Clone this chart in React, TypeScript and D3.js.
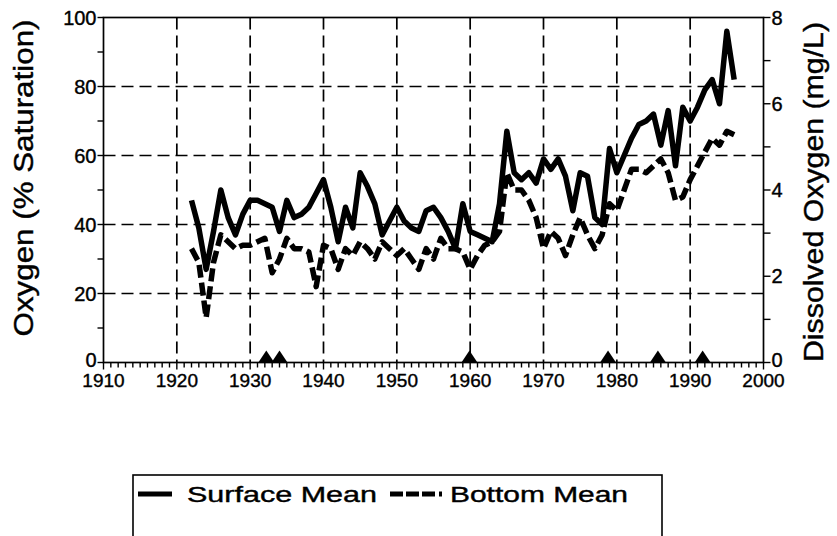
import React from "react";
import * as d3 from "d3";

// annual means, % saturation
const years = d3.range(1922, 1997);
const surfaceMean = [
  47, 39, 27, 38, 50, 42, 37, 43, 47, 47,
  46, 45, 38, 47, 42, 43, 45, 49, 53, 45,
  35, 45, 39, 55, 51, 46, 37, 41, 45, 41,
  39, 38, 44, 45, 42, 38, 33, 46, 38, 37,
  36, 35, 46, 67, 55, 53, 55, 52, 59, 56,
  59, 54, 44, 55, 54, 42, 40, 62, 55, 60,
  65, 69, 70, 72, 63, 73, 57, 74, 70, 74,
  79, 82, 75, 96, 82,
];
const bottomMean = [
  33, 29, 13, 29, 37, 35, 33, 34, 34, 35,
  36, 26, 30, 36, 33, 33, 32, 22, 34, 33,
  27, 33, 31, 35, 33, 30, 35, 33, 31, 33,
  30, 27, 33, 30, 36, 33, 33, 32, 27, 31,
  34, 35, 38, 55, 50, 50, 47, 42, 33, 38,
  36, 31, 37, 42, 37, 33, 37, 46, 44, 50,
  56, 56, 55, 57, 59, 55, 47, 48, 53, 57,
  61, 65, 63, 67, 66,
];
const markerYears = [1932.2, 1934, 1959.9, 1978.8, 1985.6, 1991.7];

const xTicks = d3.range(1910, 2001, 10);
const xMinor = d3.range(1910, 2001, 1);
const yTicks = [0, 20, 40, 60, 80, 100];
const yMinor = d3.range(0, 101, 10);
const yRightTicks = [0, 2, 4, 6, 8];
const yRightMinor = d3.range(0, 9, 1);
const gridYears = d3.range(1920, 2000, 10);
const gridValues = [20, 40, 60, 80];

const FONT = "'Liberation Sans', Arial, Helvetica, sans-serif";

const App = () => {
  const left = 103.5, right = 763.5, top = 17.5, bottom = 362.5;
  const x = d3.scaleLinear().domain([1910, 2000]).range([left, right]);
  const y = d3.scaleLinear().domain([0, 100]).range([bottom, top]);
  const yR = d3.scaleLinear().domain([0, 8]).range([bottom, top]);

  const line = d3
    .line<number>()
    .x((d, i) => x(years[i]))
    .y((d) => y(d));

  // the zero labels sit a little high so they clear the year labels
  const yLabelY = (py: number, v: number) => (v === 0 ? py + 4 : py + 7);

  return (
    <svg
      width={837}
      height={536}
      style={{ position: "absolute", left: 0, top: 0, background: "#fff" }}
      fontFamily={FONT}
    >
      <rect width={837} height={536} fill="#fff" />

      {/* grid */}
      <g stroke="#000" strokeWidth={1.7} strokeDasharray="12,6">
        {gridYears.map((yr) => (
          <line key={"gx" + yr} x1={x(yr)} x2={x(yr)} y1={top} y2={bottom} />
        ))}
        {gridValues.map((v) => (
          <line key={"gy" + v} x1={left} x2={right} y1={y(v)} y2={y(v)} />
        ))}
      </g>

      {/* frame */}
      <rect x={left} y={top} width={right - left} height={bottom - top} fill="none" stroke="#000" strokeWidth={1.7} />

      {/* data */}
      <path d={line(bottomMean) || ""} fill="none" stroke="#000" strokeWidth={5.5}
        strokeDasharray="13,5" strokeLinejoin="round" />
      <path d={line(surfaceMean) || ""} fill="none" stroke="#000" strokeWidth={5.5}
        strokeLinejoin="round" />

      {/* markers */}
      {markerYears.map((yr) => {
        const cx = x(yr);
        return (
          <path key={"m" + yr} d={`M${cx - 8},${bottom} L${cx},${bottom - 12} L${cx + 8},${bottom} Z`} fill="#000" />
        );
      })}

      {/* x axis */}
      <g stroke="#000" strokeWidth={1.4}>
        {xMinor.map((yr) => (
          <line key={"xm" + yr} x1={x(yr)} x2={x(yr)} y1={bottom} y2={bottom + (yr % 10 === 0 ? 7 : 5)} />
        ))}
      </g>
      <g fontSize={19} textAnchor="middle" fill="#000" stroke="#000" strokeWidth={0.4}>
        {xTicks.map((yr) => (
          <text key={"xt" + yr} x={x(yr)} y={387}>{yr}</text>
        ))}
      </g>

      {/* left axis */}
      <g stroke="#000" strokeWidth={1.4}>
        {yMinor.map((v) => (
          <line key={"ym" + v} x1={left - 6} x2={left} y1={y(v)} y2={y(v)} />
        ))}
      </g>
      <g fontSize={20} textAnchor="end" fill="#000" stroke="#000" strokeWidth={0.4}>
        {yTicks.map((v) => (
          <text key={"yt" + v} x={left - 7} y={yLabelY(y(v), v)}>{v}</text>
        ))}
      </g>

      {/* right axis */}
      <g stroke="#000" strokeWidth={1.4}>
        {yRightMinor.map((v) => (
          <line key={"yrm" + v} x1={right} x2={right + 7} y1={yR(v)} y2={yR(v)} />
        ))}
      </g>
      <g fontSize={20} textAnchor="start" fill="#000" stroke="#000" strokeWidth={0.4}>
        {yRightTicks.map((v) => (
          <text key={"yrt" + v} x={right + 8} y={yLabelY(yR(v), v)}>{v}</text>
        ))}
      </g>

      {/* axis titles */}
      <g stroke="#000" strokeWidth={0.4}>
        <text transform="translate(33,178) rotate(-90)" textAnchor="middle" fontSize={27}
          textLength={317} lengthAdjust="spacingAndGlyphs">Oxygen (% Saturation)</text>
        <text transform="translate(823,192) rotate(-90)" textAnchor="middle" fontSize={27}
          textLength={340} lengthAdjust="spacingAndGlyphs">Dissolved Oxygen (mg/L)</text>
      </g>

      {/* legend */}
      <rect x={133} y={475} width={529} height={80} fill="none" stroke="#000" strokeWidth={1.6} />
      <line x1={138} x2={172} y1={494} y2={494} stroke="#000" strokeWidth={5} />
      <g stroke="#000" strokeWidth={0.4}>
        <text x={187} y={502} fontSize={22} textLength={190} lengthAdjust="spacingAndGlyphs">Surface Mean</text>
        <text x={450} y={502} fontSize={22} textLength={178} lengthAdjust="spacingAndGlyphs">Bottom Mean</text>
      </g>
      <line x1={390} x2={446} y1={494} y2={494} stroke="#000" strokeWidth={5} strokeDasharray="13,3,13,3,13,4,3,20" />
    </svg>
  );
};

export default App;
